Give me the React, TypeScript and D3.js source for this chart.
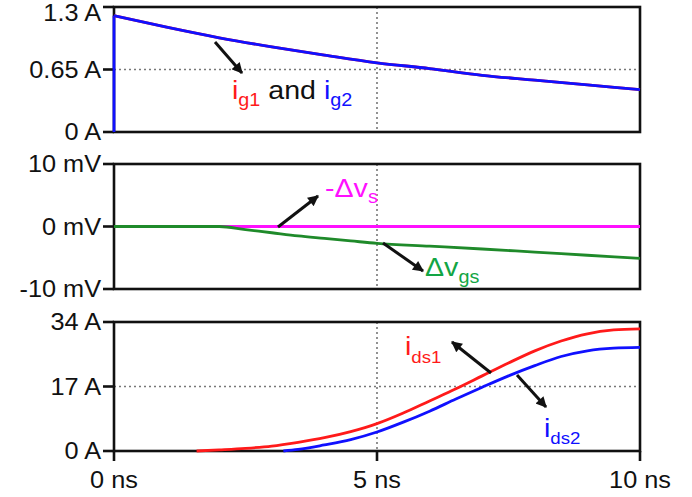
import React from 'react';
import * as d3 from 'd3';

// ---------- data ----------
const timeTicks = [0, 5, 10];
const timeTickLabels = ['0 ns', '5 ns', '10 ns'];

const gateTicks = [0, 0.65, 1.3];
const gateTickLabels = ['0 A', '0.65 A', '1.3 A'];
const gateTime = [0, 1, 2, 3, 4, 5, 6, 7, 8, 9, 10];
const gateCurrent = [1.21, 1.09, 0.98, 0.885, 0.8, 0.72, 0.66, 0.59, 0.54, 0.49, 0.44];

const voltTicks = [-10, 0, 10];
const voltTickLabels = ['-10 mV', '0 mV', '10 mV'];
const dvsTime = [0, 10];
const dvsValues = [0, 0];
const dvgsTime = [0, 1, 2, 2.5, 3, 3.5, 4, 4.5, 5, 6, 7, 8, 9, 10];
const dvgsValues = [0, 0, 0, -0.5, -1.0, -1.5, -1.9, -2.3, -2.7, -3.15, -3.6, -4.1, -4.6, -5.1];

const drainTicks = [0, 17, 34];
const drainTickLabels = ['0 A', '17 A', '34 A'];
const ids1Time = [1.57, 2, 2.5, 3, 3.5, 4, 4.5, 5, 5.5, 6, 6.5, 7, 7.5, 8, 8.5, 9, 9.5, 10];
const ids1Values = [0, 0.3, 0.7, 1.3, 2.3, 3.5, 5.1, 7.2, 10.0, 13.2, 16.4, 19.8, 23.2, 26.4, 29.0, 30.9, 31.9, 32.2];
const ids2Time = [3.22, 3.5, 4, 4.5, 5, 5.5, 6, 6.5, 7, 7.5, 8, 8.5, 9, 9.5, 10];
const ids2Values = [0, 0.4, 1.6, 3.0, 5.0, 7.6, 10.5, 13.7, 16.8, 19.8, 22.5, 24.9, 26.4, 27.1, 27.3];

// ---------- layout ----------
const W = 692;
const H = 497;
const X0 = 114;
const X1 = 640;
const FONT = "'Liberation Sans', Arial, Helvetica, sans-serif";
const SX = 1.1;

const BLUE = '#1010ff';
const RED = '#ff1a1a';
const MAGENTA = '#ff10ff';
const GREEN_LINE = '#1f8a2a';
const GREEN_TEXT = '#12a544';
const INK = '#111';
const LW = 2.8;

const x = d3.scaleLinear().domain([0, 10]).range([X0, X1]);

type Pt = [number, number];
const zip = (t: number[], v: number[]): Pt[] => t.map((ti, i) => [ti, v[i]]);

function STxt({ x: tx, y: ty, anchor = 'start', size, fill = INK, children }: any) {
  return (
    <text
      transform={`translate(${tx},${ty}) scale(${SX},1)`}
      textAnchor={anchor}
      fontFamily={FONT}
      fontSize={size}
      fill={fill}
    >
      {children}
    </text>
  );
}

// approximate Arial advance widths (em)
const ADV: Record<string, number> = {
  i: 0.222, g: 0.556, d: 0.556, s: 0.5, a: 0.556, n: 0.556, v: 0.5, ' ': 0.278,
  '1': 0.556, '2': 0.556, '-': 0.333, 'Δ': 0.668,
};
function measure(s: string, fs: number) {
  let w = 0;
  for (const c of s) w += (ADV[c] ?? 0.556) * fs;
  return w;
}

// label made of pieces: [text, color, isSub]
function Label({ x: lx, y: ly, parts, size = 26, sub = 18, subDy = 7 }: any) {
  let cx = 0;
  return (
    <g transform={`translate(${lx},${ly}) scale(${SX},1)`}>
      {parts.map((p: any, i: number) => {
        const fs = p[2] ? sub : size;
        const el = (
          <text key={i} x={cx} y={p[2] ? subDy : 0} fontFamily={FONT} fontSize={fs} fill={p[1]} style={{ whiteSpace: 'pre' }}>
            {p[0]}
          </text>
        );
        cx += measure(p[0], fs);
        return el;
      })}
    </g>
  );
}

function Panel({ top, bottom, domain, ticks, labels, showX, children, topClamp }: any) {
  const y = d3.scaleLinear().domain(domain).range([bottom, top]);
  const mid = (domain[0] + domain[1]) / 2;
  return (
    <g>
      <line x1={X0} x2={X1} y1={y(mid)} y2={y(mid)} stroke="#777" strokeWidth={1.6} strokeDasharray="2,3" />
      <line x1={x(5)} x2={x(5)} y1={top} y2={bottom} stroke="#777" strokeWidth={1.6} strokeDasharray="2,3" />
      <rect x={X0} y={top} width={X1 - X0} height={bottom - top} fill="none" stroke={INK} strokeWidth={2.6} />
      {ticks.map((t: number, i: number) => {
        const yy = y(t);
        let base = yy + 8;
        if (topClamp && base < top + 14) base = top + 14;
        return (
          <g key={i}>
            <line x1={X0 - 11} x2={X0} y1={yy} y2={yy} stroke={INK} strokeWidth={2.6} />
            <STxt x={101} y={base} anchor="end" size={23}>{labels[i]}</STxt>
          </g>
        );
      })}
      {showX &&
        timeTicks.map((t, i) => (
          <g key={i}>
            <line x1={x(t)} x2={x(t)} y1={bottom} y2={bottom + 10} stroke={INK} strokeWidth={2.6} />
            <STxt x={x(t)} y={488} anchor="middle" size={23}>{timeTickLabels[i]}</STxt>
          </g>
        ))}
      {children(y)}
    </g>
  );
}

function Arrow({ x1, y1, x2, y2 }: any) {
  return <line x1={x1} y1={y1} x2={x2} y2={y2} stroke={INK} strokeWidth={3} markerEnd="url(#ah)" />;
}

export default function App() {
  const mkLine = (y: any, curve: any = d3.curveMonotoneX) =>
    d3.line<Pt>().x((d) => x(d[0])).y((d) => y(d[1])).curve(curve);

  const gatePts = zip(gateTime, gateCurrent);

  return (
    <svg width={W} height={H} style={{ position: 'absolute', left: 0, top: 0, background: '#fff' }}>
      <defs>
        <marker id="ah" viewBox="0 0 10 10" refX="9" refY="5" markerWidth="4.2" markerHeight="3.6" orient="auto" markerUnits="strokeWidth">
          <path d="M0,0 L10,5 L0,10 z" fill={INK} />
        </marker>
      </defs>

      {/* top panel: gate currents */}
      <Panel top={7} bottom={132} domain={[0, 1.3]} ticks={gateTicks} labels={gateTickLabels} topClamp>
        {(y: any) => (
          <g fill="none" strokeWidth={LW}>
            <path d={mkLine(y, d3.curveLinear)([[gateTime[0], 0], gatePts[0]]) || ''} stroke={BLUE} />
            <path d={mkLine(y)(gatePts) || ''} stroke={RED} />
            <path d={mkLine(y)(gatePts) || ''} stroke={BLUE} />
          </g>
        )}
      </Panel>
      <Arrow x1={215} y1={42} x2={242} y2={73} />
      <Label x={232} y={99} parts={[['i', RED, false], ['g1', RED, true], [' and ', INK, false], ['i', BLUE, false], ['g2', BLUE, true]]} />

      {/* middle panel: voltages */}
      <Panel top={164} bottom={289} domain={[-10, 10]} ticks={voltTicks} labels={voltTickLabels}>
        {(y: any) => (
          <g fill="none" strokeWidth={LW}>
            <path d={mkLine(y, d3.curveLinear)(zip(dvsTime, dvsValues)) || ''} stroke={MAGENTA} />
            <path d={mkLine(y)(zip(dvgsTime, dvgsValues)) || ''} stroke={GREEN_LINE} />
          </g>
        )}
      </Panel>
      <Arrow x1={278} y1={227} x2={318} y2={196} />
      <Label x={325} y={197} parts={[['-Δv', MAGENTA, false], ['s', MAGENTA, true]]} subDy={6} />
      <Arrow x1={383} y1={243} x2={423} y2={271} />
      <Label x={425} y={276} parts={[['Δv', GREEN_TEXT, false], ['gs', GREEN_TEXT, true]]} subDy={7} />

      {/* bottom panel: drain currents */}
      <Panel top={322} bottom={451} domain={[0, 34]} ticks={drainTicks} labels={drainTickLabels} showX>
        {(y: any) => (
          <g fill="none" strokeWidth={LW}>
            <path d={mkLine(y)(zip(ids2Time, ids2Values)) || ''} stroke={BLUE} />
            <path d={mkLine(y)(zip(ids1Time, ids1Values)) || ''} stroke={RED} />
          </g>
        )}
      </Panel>
      <Arrow x1={491} y1={373} x2={452} y2={342} />
      <Label x={405} y={355} parts={[['i', RED, false], ['ds1', RED, true]]} sub={17} subDy={8} />
      <Arrow x1={517} y1={375} x2={546} y2={407} />
      <Label x={544} y={437} parts={[['i', BLUE, false], ['ds2', BLUE, true]]} sub={17} subDy={7} />
    </svg>
  );
}
